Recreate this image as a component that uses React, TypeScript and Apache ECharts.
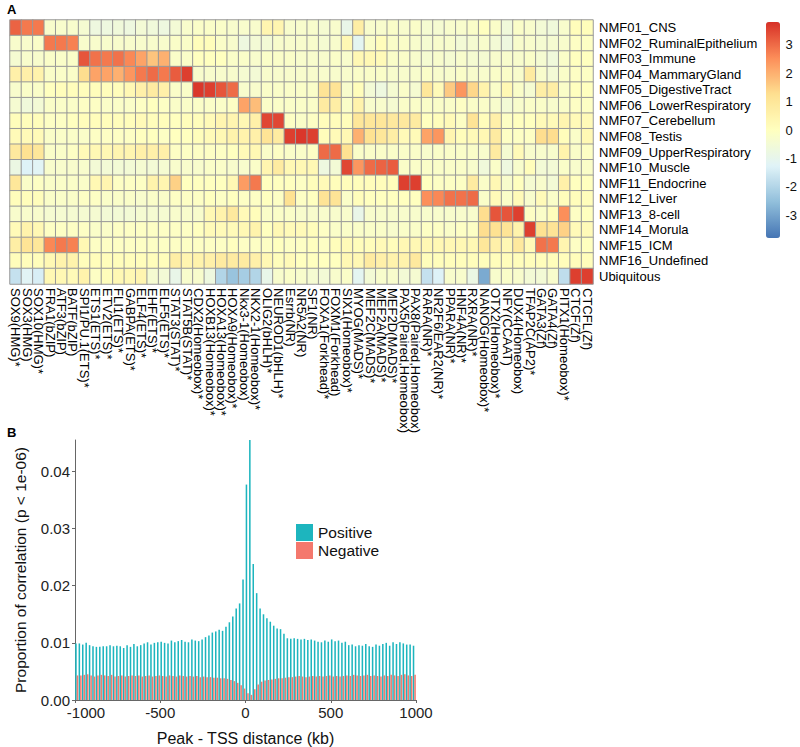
import React, { useEffect, useRef } from 'react';
import * as echarts from 'echarts';

const FONT = "'Liberation Sans', Arial, Helvetica, sans-serif";

const motifs = [
  'SOX9(HMG)*', 'SOX3(HMG)', 'SOX10(HMG)*', 'FRA1(bZIP)', 'ATF3(bZIP)', 'BATF(bZIP)',
  'SPI1/PU.1(ETS)*', 'ETS1(ETS)*', 'ETV2(ETS)*', 'FLI1(ETS)*', 'GABPA(ETS)*', 'ELF4(ETS)*',
  'EHF(ETS)*', 'ELF5(ETS)*', 'STAT3(STAT)*', 'STAT5B(STAT)*', 'CDX2(Homeobox)*', 'HOXB13(Homeobox)*',
  'HOXA13(Homeobox)*', 'HOXA9(Homeobox)*', 'Nkx3-1(Homeobox)', 'NKX2-1(Homeobox)*', 'OLIG2(bHLH)*',
  'NEUROD1(bHLH)*', 'Esrrb(NR)', 'NR5A2(NR)', 'SF1(NR)', 'FOXA1(Forkhead)*', 'FOXM1(Forkhead)',
  'SIX1(Homeobox)*', 'MYOG(MADS)*', 'MEF2C(MADS)*', 'MEF2A(MADS)*', 'MEF2D(MADS)*',
  'PAX5(Paired,Homeobox)', 'PAX8(Paired,Homeobox)', 'RARA(NR)*', 'NR2F6/EAR2(NR)*', 'PPARA(NR)*',
  'HNF4A(NR)*', 'RXRA(NR)*', 'NANOG(Homeobox)*', 'OTX2(Homeobox)*', 'NFY(CCAAT)', 'DUX4(Homeobox)',
  'TFAP2C(AP2)*', 'GATA3(Zf)', 'GATA4(Zf)', 'PITX1(Homeobox)*', 'CTCF(Zf)', 'CTCFL(Zf)',
];

const programs = [
  'NMF01_CNS', 'NMF02_RuminalEpithelium', 'NMF03_Immune', 'NMF04_MammaryGland',
  'NMF05_DigestiveTract', 'NMF06_LowerRespiratory', 'NMF07_Cerebellum', 'NMF08_Testis',
  'NMF09_UpperRespiratory', 'NMF10_Muscle', 'NMF11_Endocrine', 'NMF12_Liver',
  'NMF13_8-cell', 'NMF14_Morula', 'NMF15_ICM', 'NMF16_Undefined', 'Ubiquitous',
];

const r01 = [3.1, 2.8, 2.8, -0.3, -0.3, -0.3, -0.4, -0.7, -0.7, -0.6, -0.7, -0.5, -0.6, -0.7, -0.5, -0.3, -0.2, -0.2, -0.2, -0.3, -0.3, -0.3, 0.4, 0.4, -0.3, -0.3, -0.3, -0.4, -0.3, -0.9, 0.7, -0.3, -0.3, -0.2, -0.3, -0.2, -0.4, -0.4, -0.3, -0.3, -0.2, 0.0, -0.2, -0.6, -0.2, -0.3, -0.5, -0.6, -0.3, 0.1, 0.1];
const r02 = [-0.3, -0.3, -0.2, 2.8, 2.8, 2.7, -0.3, -0.3, -0.3, -0.3, -0.3, -0.3, -0.3, -0.3, -0.2, -0.2, 0.1, 0.1, -0.2, -0.3, -0.7, -0.5, -0.5, -0.3, -0.3, -0.3, -0.3, -0.4, -0.3, 0.3, -1.1, -0.2, 0.1, -0.2, -0.2, -0.3, -0.4, -0.3, -0.3, -0.5, -0.4, -0.3, -0.5, -0.7, -0.3, -0.3, -0.4, -0.4, -0.3, -0.1, -0.1];
const r03 = [-0.4, -0.3, -0.3, -0.2, -0.2, -0.2, 3.3, 2.9, 2.8, 2.9, 2.6, 2.2, 1.7, 2.0, -0.2, -0.2, 0.0, 0.0, 0.0, -0.2, -0.2, -0.3, -0.2, -0.2, -0.2, -0.3, -0.3, -0.3, -0.2, -0.3, 0.3, 0.3, 0.2, -0.2, -0.2, -0.3, -0.4, -0.3, -0.4, -0.3, -0.4, -0.4, -0.3, -0.3, -0.3, -0.2, -0.4, -0.6, -0.2, 0.0, 0.0];
const r04 = [0.6, 0.6, 0.5, -0.2, -0.2, -0.2, 1.3, 2.2, 2.2, 2.0, 2.4, 2.8, 3.0, 2.8, 3.2, 3.6, -0.3, -0.3, -0.3, -0.3, -0.4, -0.5, -0.3, -0.3, -0.3, -0.3, -0.3, -0.3, -0.3, -0.3, -0.2, -0.2, -0.2, -0.3, -0.3, -0.3, -0.2, -0.3, -0.3, -0.2, -0.3, -0.3, -0.2, -0.2, -0.3, 0.8, -0.3, -0.5, -0.2, -0.1, -0.1];
const r05 = [-0.3, -0.2, -0.2, 0.0, 0.1, 0.1, 0.1, 0.1, 0.1, 0.1, 0.3, 0.6, 0.8, 0.6, -0.2, -0.2, 3.7, 3.6, 3.3, 3.0, -0.3, -0.3, -0.2, -0.2, -0.2, -0.2, -0.2, 1.1, 1.1, -0.3, 0.1, -0.5, -0.7, -0.4, -0.2, -0.4, 1.0, 0.2, 1.6, 2.4, 1.4, 0.5, -0.2, 0.3, -0.2, -0.4, 0.7, 0.7, -0.2, 0.0, 0.0];
const r06 = [-0.4, -0.6, -0.5, -0.2, -0.2, -0.2, -0.1, -0.1, -0.2, -0.2, -0.2, -0.1, 0.0, -0.1, -0.2, -0.2, -0.2, -0.2, -0.2, -0.1, 2.2, 1.8, -0.2, -0.2, -0.2, -0.2, -0.2, 0.8, 0.7, -0.2, 0.5, -0.3, -0.3, -0.4, -0.2, -0.2, -0.2, -0.2, -0.2, -0.1, -0.2, -0.2, -0.3, -0.5, -0.3, -0.2, -0.2, -0.3, -0.2, -0.1, -0.1];
const r07 = [0.1, 0.1, 0.1, -0.1, -0.1, 0.0, 0.1, 0.1, 0.1, 0.1, 0.1, 0.2, 0.1, 0.1, 0.0, 0.1, 0.1, 0.2, 0.4, 0.4, 0.3, 0.6, 3.5, 3.5, -0.1, -0.2, -0.1, 0.1, 0.1, 0.1, 1.0, 1.0, 1.0, 0.9, 0.9, 0.8, 0.0, 0.1, 0.2, -0.1, 1.1, 0.1, 0.6, -0.1, 0.0, 0.0, 0.2, 0.2, 0.4, 0.2, 0.2];
const r08 = [0.2, 0.2, 0.2, -0.2, -0.2, -0.2, -0.2, -0.1, -0.1, -0.1, -0.1, 0.0, 0.0, -0.1, 0.0, 0.0, 0.1, 0.2, 0.3, 0.5, 0.5, 0.6, 1.1, 0.8, 3.6, 3.7, 3.6, 0.1, 0.2, 0.3, 2.0, 1.2, 1.0, 0.7, 0.2, 0.2, 2.2, 2.4, 0.4, 0.1, 0.2, 0.3, 0.8, -0.1, -0.1, -0.1, 1.3, 1.3, 0.1, -0.2, 0.3];
const r09 = [0.9, 1.2, 1.0, -0.2, -0.2, -0.1, 0.2, 0.3, 0.3, 0.4, 0.4, 0.6, 0.6, 0.6, -0.1, -0.1, -0.1, -0.1, -0.1, 0.0, 0.2, 0.3, -0.2, -0.1, -0.2, -0.2, -0.1, 3.0, 3.0, 1.2, -0.2, -0.2, -0.2, -0.2, -0.2, -0.2, -0.3, -0.2, -0.2, -0.2, -0.2, -0.3, 0.8, -0.4, 0.2, -0.3, -0.3, -0.3, 0.5, -0.2, -0.1];
const r10 = [-0.8, -1.3, -1.2, -0.3, -0.3, -0.3, -0.3, -0.5, -0.5, -0.5, -0.5, -0.4, -0.5, -0.4, -0.3, -0.3, -0.3, -0.2, -0.2, -0.3, -0.3, -0.2, 0.4, 0.8, 0.3, 0.3, 0.3, -0.7, -0.5, 3.5, 2.4, 3.0, 3.1, 3.2, -0.2, -0.2, -0.2, -0.2, -0.2, -0.2, -0.3, -0.6, -0.2, -0.7, -0.3, 0.1, -0.5, -0.5, -0.2, -0.3, -0.2];
const r11 = [1.0, -0.2, -0.1, -0.2, -0.2, -0.2, -0.2, 0.3, 0.4, -0.1, -0.1, -0.1, 0.5, 0.4, 1.5, 0.0, 0.0, 0.0, 0.0, 0.3, 2.3, 2.8, 0.0, 0.0, 0.0, -0.1, 0.1, 0.2, 0.1, 0.1, 0.1, 0.1, 0.1, 0.1, 3.6, 3.6, 0.0, -0.1, -0.1, -0.1, 0.8, -0.2, 0.3, -0.3, 0.0, -0.4, -0.3, -0.5, 0.6, 0.0, 0.0];
const r12 = [0.1, 0.1, 0.1, -0.2, -0.2, -0.2, -0.1, -0.1, -0.2, -0.2, -0.2, -0.3, -0.2, -0.2, -0.1, -0.1, -0.1, 0.0, -0.1, 0.0, -0.1, -0.1, 0.0, -0.1, 1.2, -0.1, 0.0, 1.1, 1.1, -0.2, 0.1, 0.0, 0.0, 0.0, 0.0, 0.0, 2.5, 2.6, 2.9, 2.9, 3.0, -0.2, 0.2, -0.2, 0.2, -0.3, 0.2, -0.2, 0.1, 0.1, 0.1];
const r13 = [-0.3, -0.3, -0.3, -0.4, -0.4, -0.4, -0.4, -0.4, -0.5, -0.5, -0.5, -0.4, -0.4, -0.4, -0.3, -0.3, -0.3, 0.3, 0.5, 0.9, 0.2, 0.1, -0.2, -0.2, -0.2, -0.3, -0.3, -0.3, -0.3, -0.3, -0.9, -0.3, -0.3, -0.3, -0.3, -0.3, -0.3, -0.3, -0.3, -0.3, -0.3, 1.3, 3.3, 3.3, 3.6, -0.1, -0.2, 0.1, 2.5, -0.1, 0.0];
const r14 = [0.2, 0.5, 0.3, -0.1, -0.1, -0.1, -0.1, -0.2, -0.2, -0.1, -0.1, -0.1, -0.1, -0.1, -0.1, -0.1, 0.0, 0.2, 0.2, 0.2, 0.3, 0.5, 0.0, 0.3, 0.2, 0.2, 0.1, -0.1, -0.2, -0.2, -0.2, -0.2, -0.2, -0.3, -0.2, -0.2, -0.1, -0.1, -0.2, -0.1, -0.1, 1.3, 1.2, 1.1, 0.5, 3.6, 1.2, 1.1, 1.5, 0.2, 0.2];
const r15 = [0.7, 1.1, 1.0, 2.6, 2.8, 2.7, 0.3, -0.1, -0.1, -0.1, -0.1, -0.1, -0.1, -0.1, -0.1, -0.1, -0.1, -0.1, -0.1, 0.0, -0.1, -0.1, -0.1, 0.0, -0.1, -0.1, 0.0, -0.1, 0.1, 0.2, 0.1, 0.1, 0.2, 0.1, 0.3, 0.3, 0.3, 0.3, 0.3, 0.3, 0.3, 1.0, 0.6, 0.3, 0.9, 0.2, 2.9, 2.8, 0.4, -0.1, 0.0];
const r16 = [0.1, 0.1, 0.1, 0.3, 0.5, 0.5, 0.1, 0.1, 0.1, 0.1, 0.1, 0.1, 0.1, 0.1, 0.7, 0.4, 0.5, 0.6, 0.8, 0.8, 0.8, 0.6, 0.3, 0.1, 0.2, 0.0, 0.0, 0.0, 0.0, 0.3, 0.3, 0.8, 0.6, 0.5, 0.5, 0.9, 0.1, 0.1, 0.1, 0.1, 0.1, 0.1, 0.1, 0.1, 0.1, 0.1, 0.1, 0.1, 0.1, 0.1, 0.1];
const r17 = [-1.7, -1.2, -1.4, 0.3, 0.3, 0.2, 0.5, -0.1, 0.1, 0.3, 0.3, 0.4, -0.4, -0.5, -0.9, -0.3, -0.3, -0.7, -2.0, -2.4, -2.2, -2.0, -0.9, -0.3, -0.2, -0.3, -0.4, -0.5, -0.3, -0.2, -1.1, -0.5, -0.3, -0.3, -0.5, -0.4, -1.7, -1.3, -0.3, -0.3, -0.8, -2.9, -0.3, -0.2, -0.3, -0.5, -0.5, -0.3, -1.8, 3.6, 3.6];
const heatRows = [r01, r02, r03, r04, r05, r06, r07, r08, r09, r10, r11, r12, r13, r14, r15, r16, r17];

const colorTicks = [-3, -2, -1, 0, 1, 2, 3];
const heatColors = ['#4575b4', '#91bfdb', '#e0f3f8', '#ffffbf', '#fee090', '#fc8d59', '#d73027'];

const yTicks = [0, 0.01, 0.02, 0.03, 0.04];
const xTicks = [-1000, -500, 0, 500, 1000];

// 20-kb bins from -1000 to 1000 kb
const binStart = -1000;
const binWidth = 20;
const positive = [
  0.0099, 0.0099, 0.0097, 0.0100, 0.0096, 0.0094, 0.0093, 0.0093, 0.0094, 0.0094,
  0.0096, 0.0094, 0.0095, 0.0094, 0.0091, 0.0096, 0.0093, 0.0098, 0.0094, 0.0096,
  0.0099, 0.0101, 0.0097, 0.0100, 0.0101, 0.0102, 0.0100, 0.0099, 0.0104, 0.0101,
  0.0103, 0.0105, 0.0102, 0.0101, 0.0106, 0.0104, 0.0103, 0.0106, 0.0110, 0.0113,
  0.0118, 0.0120, 0.0123, 0.0121, 0.0128, 0.0136, 0.0146, 0.0160, 0.0169, 0.0211,
  0.0377, 0.0600, 0.0238, 0.0187, 0.0160, 0.0150, 0.0143, 0.0137, 0.0130, 0.0125,
  0.0124, 0.0116, 0.0108, 0.0107, 0.0108, 0.0107, 0.0106, 0.0107, 0.0105, 0.0106,
  0.0104, 0.0102, 0.0101, 0.0104, 0.0102, 0.0106, 0.0103, 0.0104, 0.0100, 0.0102,
  0.0096, 0.0097, 0.0094, 0.0096, 0.0095, 0.0098, 0.0094, 0.0093, 0.0097, 0.0095,
  0.0098, 0.0100, 0.0095, 0.0101, 0.0098, 0.0101, 0.0099, 0.0097, 0.0097, 0.0095,
];
const negative = [
  0.0043, 0.0043, 0.0044, 0.0045, 0.0043, 0.0041, 0.0043, 0.0044, 0.0043, 0.0042,
  0.0044, 0.0041, 0.0042, 0.0043, 0.0041, 0.0042, 0.0043, 0.0042, 0.0043, 0.0041,
  0.0042, 0.0043, 0.0041, 0.0042, 0.0043, 0.0042, 0.0041, 0.0043, 0.0042, 0.0041,
  0.0043, 0.0042, 0.0041, 0.0042, 0.0041, 0.0042, 0.0040, 0.0041, 0.0040, 0.0040,
  0.0039, 0.0039, 0.0038, 0.0038, 0.0037, 0.0035, 0.0033, 0.0030, 0.0026, 0.0020,
  0.0012, 0.0009, 0.0019, 0.0027, 0.0032, 0.0034, 0.0035, 0.0036, 0.0037, 0.0038,
  0.0038, 0.0039, 0.0040, 0.0040, 0.0041, 0.0042, 0.0041, 0.0040, 0.0041, 0.0042,
  0.0041, 0.0042, 0.0041, 0.0042, 0.0043, 0.0041, 0.0042, 0.0041, 0.0042, 0.0043,
  0.0042, 0.0044, 0.0043, 0.0042, 0.0043, 0.0044, 0.0042, 0.0043, 0.0042, 0.0041,
  0.0043, 0.0042, 0.0044, 0.0043, 0.0042, 0.0044, 0.0045, 0.0043, 0.0042, 0.0044,
];

export default function App() {
  const ref = useRef<HTMLDivElement>(null);

  useEffect(() => {
    if (!ref.current) return;
    const chart = echarts.init(ref.current, null, { renderer: 'svg' });

    const heatData: number[][] = [];
    heatRows.forEach((row, r) => row.forEach((v, c) => heatData.push([c, r, v])));
    const bins = positive.map((_, i) => String(binStart + binWidth * i + binWidth / 2));

    const option: any = {
      animation: false,
      backgroundColor: '#ffffff',
      textStyle: { fontFamily: FONT },
      graphic: [
        { type: 'text', left: 7, top: 3, style: { text: 'A', font: `bold 13px ${FONT}`, fill: '#000' } },
        { type: 'text', left: 7, top: 426, style: { text: 'B', font: `bold 13px ${FONT}`, fill: '#000' } },
      ],
      grid: [
        { left: 10, top: 20, width: 583, height: 264 },
        { left: 766, top: 22, width: 14, height: 216 },
        { left: 75, top: 440, width: 341, height: 260 },
      ],
      xAxis: [
        {
          type: 'category', gridIndex: 0, data: motifs, position: 'bottom',
          axisLine: { show: false }, axisTick: { show: false }, splitLine: { show: false },
          axisLabel: { rotate: -90, interval: 0, fontSize: 13, color: '#000', margin: 4, fontFamily: FONT },
        },
        { type: 'value', gridIndex: 1, show: false, min: 0, max: 1 },
        { type: 'category', gridIndex: 2, data: bins, show: false },
        {
          type: 'value', gridIndex: 2, min: -1000, max: 1000, position: 'bottom',
          axisLine: { show: true, onZero: false, lineStyle: { color: '#666', width: 1 } },
          axisTick: { show: true, length: 3, customValues: xTicks, lineStyle: { color: '#666' } },
          splitLine: { show: false },
          axisLabel: {
            customValues: xTicks, fontSize: 15, color: '#222', margin: 5, fontFamily: FONT,
            formatter: (v: number) => (v === -1000 ? `{m|${v}}` : String(v)),
            rich: { m: { fontSize: 15, color: '#222', fontFamily: FONT, padding: [0, 0, 0, 22] } },
          },
          name: 'Peak - TSS distance (kb)', nameLocation: 'middle', nameGap: 30,
          nameTextStyle: { fontSize: 16, color: '#111', fontFamily: FONT },
        },
      ],
      yAxis: [
        {
          type: 'category', gridIndex: 0, data: programs, inverse: true, position: 'right',
          axisLine: { show: false }, axisTick: { show: false }, splitLine: { show: false },
          axisLabel: { interval: 0, fontSize: 13, color: '#000', margin: 6, fontFamily: FONT },
        },
        {
          type: 'value', gridIndex: 1, min: -3.8, max: 3.8, position: 'right',
          axisLine: { show: false }, axisTick: { show: false }, splitLine: { show: false },
          axisLabel: { customValues: colorTicks, fontSize: 13, color: '#111', margin: 7, fontFamily: FONT },
        },
        {
          type: 'value', gridIndex: 2, min: 0, max: 0.0455, position: 'left',
          axisLine: { show: true, onZero: false, lineStyle: { color: '#666', width: 1 } },
          axisTick: { show: true, length: 3, customValues: yTicks, lineStyle: { color: '#666' } },
          splitLine: { show: false },
          axisLabel: {
            customValues: yTicks, fontSize: 15, color: '#222', margin: 5, fontFamily: FONT,
            formatter: (v: number) => v.toFixed(2),
          },
          name: 'Proportion of correlation (p < 1e-06)', nameLocation: 'middle', nameGap: 47,
          nameTextStyle: { fontSize: 15.5, color: '#111', fontFamily: FONT },
        },
      ],
      visualMap: {
        type: 'continuous', min: -3.8, max: 3.8, seriesIndex: 0, calculable: false,
        left: 766, top: 22, itemWidth: 14, itemHeight: 216, padding: 0,
        inRange: { color: heatColors }, text: null, showLabel: false,
      },
      legend: {
        data: ['Positive', 'Negative'], orient: 'vertical', left: 296, top: 524,
        itemWidth: 17, itemHeight: 17, itemGap: 1, padding: 0, icon: 'rect',
        textStyle: { fontSize: 15.5, color: '#111', fontFamily: FONT },
      },
      series: [
        {
          type: 'heatmap', xAxisIndex: 0, yAxisIndex: 0, data: heatData,
          itemStyle: { borderColor: '#999999', borderWidth: 1 },
          emphasis: { disabled: true },
        },
        {
          name: 'Positive', type: 'bar', xAxisIndex: 2, yAxisIndex: 2, data: positive,
          itemStyle: { color: '#1DB5BE' }, barGap: '0%', barCategoryGap: '10%',
        },
        {
          name: 'Negative', type: 'bar', xAxisIndex: 2, yAxisIndex: 2, data: negative,
          itemStyle: { color: '#F4786D' }, barGap: '0%', barCategoryGap: '10%',
        },
      ],
    };

    chart.setOption(option);
    return () => chart.dispose();
  }, []);

  return (
    <div
      ref={ref}
      style={{ position: 'fixed', left: 0, top: 0, width: 800, height: 747, background: '#fff' }}
    />
  );
}
